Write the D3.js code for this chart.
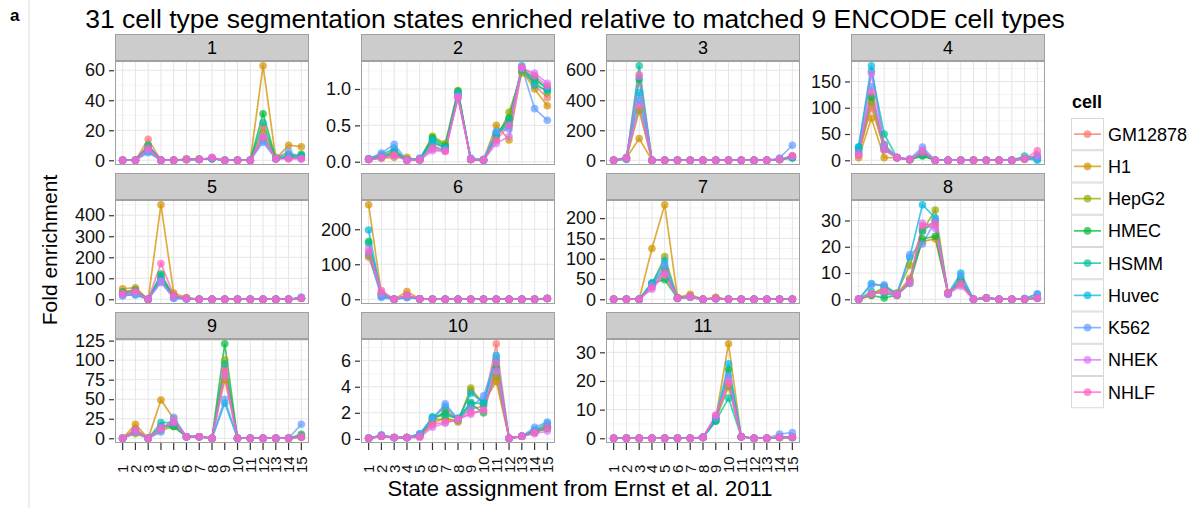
<!DOCTYPE html>
<html>
<head>
<meta charset="utf-8">
<script src="https://cdn.jsdelivr.net/npm/d3@7"></script>
<style>
  body { margin: 0; background: #fff; }
  text { font-family: "Liberation Sans", Arial, Helvetica, sans-serif; }
</style>
</head>
<body>
<script>
const width = 1196;
const height = 508;

// Cell types and ggplot hue colours
const cells = ['GM12878', 'H1', 'HepG2', 'HMEC', 'HSMM', 'Huvec', 'K562', 'NHEK', 'NHLF'];
const cellColors = ['#F8766D', '#D39200', '#93AA00', '#00BA38', '#00C19F', '#00B9E3', '#619CFF', '#DB72FB', '#FF61C3'];

// Ernst et al. states (x categories)
const states = ['1', '2', '3', '4', '5', '6', '7', '8', '9', '10', '11', '12', '13', '14', '15'];

// Segmentation state panels
const panelNames = ['1', '2', '3', '4', '5', '6', '7', '8', '9', '10', '11'];

// Fold enrichment per panel: one row per cell (same order as cells), one value per state
const seg1 = [
  [0, 0, 14, 0, 0, 0.5, 0.5, 1.5, 0, 0, 0, 22, 1, 2, 2],
  [0, 0, 10, 0, 0, 1, 1, 1, 0, 0, 0, 63, 1, 10, 9],
  [0, 0, 9, 0, 0, 0.5, 0.5, 1, 0, 0, 0, 18, 2, 4, 3],
  [0, 0, 8, 0, 0, 0.5, 0.5, 1.5, 0, 0, 0, 31, 1, 2, 4],
  [0, 0, 10, 0, 0, 0.5, 0.5, 1, 0, 0, 0, 25, 1, 3, 3],
  [0, 0, 6, 0, 0, 0.5, 0.5, 1, 0, 0, 0, 14, 1, 2, 2],
  [0, 0, 5, 0, 0, 0.5, 0.5, 1, 0, 0, 0, 12, 1, 6, 1],
  [0, 0, 7, 0, 0, 0.5, 0.5, 2, 0, 0, 0, 16, 1, 1, 1],
  [0, 0, 8, 0, 0, 0.5, 0.5, 1.5, 0, 0, 0, 15, 1, 1, 1]
];
const seg2 = [
  [0.03, 0.06, 0.10, 0.02, 0.03, 0.25, 0.20, 0.90, 0.03, 0.02, 0.35, 0.55, 1.28, 1.05, 0.88],
  [0.03, 0.05, 0.06, 0.06, 0.02, 0.22, 0.15, 0.92, 0.03, 0.03, 0.50, 0.30, 1.25, 1.00, 0.77],
  [0.04, 0.08, 0.15, 0.03, 0.03, 0.35, 0.25, 0.98, 0.03, 0.03, 0.30, 0.68, 1.22, 1.10, 0.95],
  [0.03, 0.06, 0.12, 0.03, 0.03, 0.33, 0.22, 0.97, 0.03, 0.02, 0.38, 0.60, 1.27, 1.15, 1.00],
  [0.03, 0.07, 0.12, 0.03, 0.03, 0.30, 0.20, 0.95, 0.03, 0.02, 0.36, 0.58, 1.26, 1.12, 1.02],
  [0.04, 0.10, 0.18, 0.02, 0.04, 0.28, 0.18, 0.93, 0.04, 0.02, 0.40, 0.50, 1.32, 1.05, 0.98],
  [0.04, 0.12, 0.24, 0.02, 0.05, 0.20, 0.16, 0.88, 0.05, 0.03, 0.42, 0.45, 1.30, 0.73, 0.57],
  [0.03, 0.05, 0.08, 0.02, 0.02, 0.15, 0.15, 0.90, 0.03, 0.02, 0.25, 0.35, 1.28, 1.22, 1.08],
  [0.03, 0.06, 0.10, 0.02, 0.03, 0.18, 0.14, 0.88, 0.03, 0.02, 0.30, 0.50, 1.30, 1.18, 1.04]
];
const seg3 = [
  [0, 15, 570, 0, 0, 0, 0, 0, 0, 0, 0, 0, 0, 5, 30],
  [0, 15, 145, 0, 0, 0, 0, 0, 0, 0, 0, 0, 0, 5, 15],
  [0, 12, 330, 0, 0, 0, 0, 0, 0, 0, 0, 0, 0, 5, 20],
  [0, 10, 540, 0, 0, 0, 0, 0, 0, 0, 0, 0, 0, 5, 20],
  [0, 5, 630, 0, 0, 0, 0, 0, 0, 0, 0, 0, 0, 5, 20],
  [0, 15, 450, 0, 0, 0, 0, 0, 0, 0, 0, 0, 0, 5, 15],
  [0, 20, 400, 0, 0, 0, 0, 0, 0, 0, 0, 0, 0, 15, 100],
  [0, 10, 560, 0, 0, 0, 0, 0, 0, 0, 0, 0, 0, 5, 25],
  [0, 15, 360, 0, 0, 0, 0, 0, 0, 0, 0, 0, 0, 5, 30]
];
const seg4 = [
  [15, 100, 25, 5, 1, 10, 0, 0, 0, 0, 0, 0, 0, 3, 10],
  [5, 80, 5, 5, 1, 12, 0, 0, 0, 0, 0, 0, 0, 2, 5],
  [10, 110, 20, 5, 1, 15, 0, 0, 0, 0, 0, 0, 0, 3, 8],
  [20, 120, 30, 5, 1, 8, 0, 0, 0, 0, 0, 0, 0, 3, 5],
  [25, 170, 50, 5, 2, 10, 0, 0, 0, 0, 0, 0, 0, 8, 3],
  [25, 180, 25, 5, 2, 18, 0, 0, 0, 0, 0, 0, 0, 3, 0],
  [15, 140, 20, 5, 2, 25, 0, 0, 0, 0, 0, 0, 0, 3, 5],
  [10, 165, 30, 5, 2, 20, 0, 0, 0, 0, 0, 0, 0, 3, 8],
  [10, 130, 20, 5, 1, 15, 0, 0, 0, 0, 0, 0, 0, 3, 18]
];
const seg5 = [
  [30, 40, 0, 95, 15, 5, 0, 0, 0, 0, 0, 0, 0, 0, 5],
  [50, 55, 0, 450, 30, 8, 0, 0, 0, 0, 0, 0, 0, 0, 5],
  [25, 35, 0, 100, 10, 3, 0, 0, 0, 0, 0, 0, 0, 0, 5],
  [35, 45, 0, 120, 15, 3, 0, 0, 0, 0, 0, 0, 0, 0, 5],
  [25, 30, 0, 110, 10, 3, 0, 0, 0, 0, 0, 0, 0, 0, 5],
  [20, 20, 0, 90, 5, 2, 0, 0, 0, 0, 0, 0, 0, 0, 5],
  [15, 25, 0, 80, 5, 2, 0, 0, 0, 0, 0, 0, 0, 0, 10],
  [20, 30, 0, 85, 10, 3, 0, 0, 0, 0, 0, 0, 0, 0, 5],
  [30, 40, 0, 170, 20, 5, 0, 0, 0, 0, 0, 0, 0, 0, 5]
];
const seg6 = [
  [120, 20, 0, 10, 1, 0, 0, 0, 0, 0, 0, 0, 0, 0, 2],
  [270, 15, 0, 22, 1, 0, 0, 0, 0, 0, 0, 0, 0, 0, 2],
  [125, 15, 0, 8, 1, 0, 0, 0, 0, 0, 0, 0, 0, 0, 3],
  [165, 15, 0, 10, 1, 0, 0, 0, 0, 0, 0, 0, 0, 0, 2],
  [160, 10, 0, 8, 1, 0, 0, 0, 0, 0, 0, 0, 0, 0, 2],
  [198, 8, 0, 5, 1, 0, 0, 0, 0, 0, 0, 0, 0, 0, 2],
  [130, 5, 0, 5, 1, 0, 0, 0, 0, 0, 0, 0, 0, 0, 2],
  [145, 15, 0, 10, 1, 0, 0, 0, 0, 0, 0, 0, 0, 0, 2],
  [135, 25, 0, 12, 1, 0, 0, 0, 0, 0, 0, 0, 0, 0, 2]
];
const seg7 = [
  [0, 0, 0, 30, 70, 3, 8, 0, 3, 0, 0, 0, 0, 0, 0],
  [0, 0, 0, 125, 233, 5, 12, 0, 5, 0, 0, 0, 0, 0, 0],
  [0, 0, 0, 35, 105, 3, 8, 0, 2, 0, 0, 0, 0, 0, 0],
  [0, 0, 0, 40, 48, 3, 6, 0, 2, 0, 0, 0, 0, 0, 0],
  [0, 0, 0, 38, 75, 2, 5, 0, 1, 0, 0, 0, 0, 0, 0],
  [0, 0, 0, 40, 95, 2, 5, 0, 1, 0, 0, 0, 0, 0, 0],
  [0, 0, 0, 35, 85, 3, 6, 0, 1, 0, 0, 0, 0, 0, 0],
  [0, 0, 0, 25, 60, 2, 5, 0, 1, 0, 0, 0, 0, 0, 0],
  [0, 0, 0, 30, 65, 3, 7, 0, 2, 0, 0, 0, 0, 0, 0]
];
const seg8 = [
  [0, 2, 3, 1.5, 7, 27, 28, 2.5, 6, 0, 0.5, 0, 0, 0, 0.5],
  [0, 1.5, 4, 2, 8, 22, 23, 2.5, 6, 0, 0.5, 0, 0, 0, 0.5],
  [0, 2, 4.5, 2.5, 13, 26, 34, 2.5, 6, 0, 0.5, 0, 0, 0, 0.5],
  [0, 1.5, 0.5, 1.5, 6, 23, 24, 2, 7, 0, 0.5, 0, 0, 0, 0.5],
  [0, 3, 2, 1.5, 7, 26, 30, 2, 8, 0, 0.5, 0, 0, 0, 0.5],
  [0, 6, 5, 2, 16, 36, 31, 2, 10, 0, 0.5, 0, 0, 0.3, 2],
  [0, 5.5, 5.5, 2, 17, 21, 30, 2, 9, 0, 0.5, 0, 0, 0.3, 2],
  [0, 2, 3, 2, 6, 29, 27, 2, 5, 0, 0.5, 0, 0, 0, 0.3],
  [0, 2, 3, 1.5, 7, 28, 29, 2.5, 6, 0, 0.5, 0, 0, 0, 0.5]
];
const seg9 = [
  [0, 12, 0, 12, 20, 2, 2, 0, 90, 0, 0, 0, 0, 0, 2],
  [0, 18, 0, 49, 25, 2, 2, 0, 75, 0, 0, 0, 0, 0, 1],
  [0, 6, 0, 10, 15, 2, 2, 0, 100, 0, 0, 0, 0, 0, 3],
  [0, 10, 0, 15, 15, 2, 2, 0, 121, 0, 0, 0, 0, 0, 5],
  [0, 8, 0, 20, 20, 2, 2, 0, 95, 0, 0, 0, 0, 0, 2],
  [0, 8, 0, 15, 18, 2, 2, 0, 45, 0, 0, 0, 0, 0, 2],
  [0, 10, 0, 8, 27, 2, 2, 0, 50, 0, 0, 0, 0, 0, 18],
  [0, 8, 0, 12, 22, 2, 2, 0, 80, 0, 0, 0, 0, 0, 2],
  [0, 10, 0, 14, 20, 2, 2, 0, 85, 0, 0, 0, 0, 0, 2]
];
const seg10 = [
  [0.05, 0.2, 0.1, 0.1, 0.2, 1.3, 2.2, 1.5, 2.3, 2.5, 7.3, 0.05, 0.2, 0.6, 1.0],
  [0.05, 0.2, 0.1, 0.1, 0.2, 1.2, 1.6, 1.4, 3.7, 2.8, 4.4, 0.05, 0.2, 0.5, 0.9],
  [0.05, 0.2, 0.1, 0.1, 0.3, 1.5, 1.5, 1.3, 3.9, 2.6, 4.8, 0.05, 0.2, 0.6, 0.8],
  [0.05, 0.2, 0.1, 0.1, 0.2, 1.6, 2.0, 1.5, 2.7, 2.0, 5.5, 0.05, 0.2, 0.5, 0.8],
  [0.05, 0.25, 0.1, 0.1, 0.3, 1.7, 1.8, 1.6, 2.8, 2.7, 6.0, 0.05, 0.2, 0.6, 1.0],
  [0.05, 0.3, 0.1, 0.1, 0.4, 1.6, 2.5, 1.5, 3.5, 2.8, 6.4, 0.05, 0.2, 0.7, 1.2],
  [0.05, 0.3, 0.1, 0.1, 0.4, 1.5, 2.7, 1.5, 2.4, 3.3, 6.2, 0.05, 0.2, 0.9, 1.3],
  [0.05, 0.2, 0.1, 0.1, 0.1, 0.9, 1.2, 1.5, 1.9, 2.2, 5.2, 0.05, 0.2, 0.4, 0.6],
  [0.05, 0.2, 0.1, 0.1, 0.2, 1.1, 1.3, 1.5, 2.0, 2.2, 5.8, 0.05, 0.2, 0.5, 0.9]
];
const seg11 = [
  [0, 0, 0, 0, 0, 0, 0, 0.3, 7, 20, 0.5, 0, 0, 0.3, 0.3],
  [0, 0, 0, 0, 0, 0, 0, 0.3, 7, 33, 0.5, 0, 0, 0.3, 0.3],
  [0, 0, 0, 0, 0, 0, 0, 0.3, 6.5, 18, 0.5, 0, 0, 0.3, 0.3],
  [0, 0, 0, 0, 0, 0, 0, 0.3, 6, 24, 0.5, 0, 0, 0.3, 0.3],
  [0, 0, 0, 0, 0, 0, 0, 0.3, 6, 14, 0.5, 0, 0, 0.3, 0.3],
  [0, 0, 0, 0, 0, 0, 0, 0.3, 7, 26, 0.5, 0, 0, 0.3, 0.3],
  [0, 0, 0, 0, 0, 0, 0, 0.3, 7, 22, 0.5, 0, 0, 1.5, 2],
  [0, 0, 0, 0, 0, 0, 0, 0.3, 8, 20, 0.5, 0, 0, 0.3, 0.3],
  [0, 0, 0, 0, 0, 0, 0, 0.3, 8, 19, 0.5, 0, 0, 0.3, 0.3]
];
const panelData = [seg1, seg2, seg3, seg4, seg5, seg6, seg7, seg8, seg9, seg10, seg11];

// y tick labels for each panel
const yTicks = [
  ['0', '20', '40', '60'],
  ['0.0', '0.5', '1.0'],
  ['0', '200', '400', '600'],
  ['0', '50', '100', '150'],
  ['0', '100', '200', '300', '400'],
  ['0', '100', '200'],
  ['0', '50', '100', '150', '200'],
  ['0', '10', '20', '30'],
  ['0', '25', '50', '75', '100', '125'],
  ['0', '2', '4', '6'],
  ['0', '10', '20', '30']
];

// Layout
const colLeft = [115, 361, 606, 851];
const rowTop = [34, 173, 312];
const pw = 194;       // panel width
const stripH = 27;
const ph = 104;       // panel height
const fontFam = '"Liberation Sans", Arial, Helvetica, sans-serif';

const svg = d3.select('body').append('svg')
  .attr('width', width)
  .attr('height', height);

// figure letter and left rule
svg.append('line')
  .attr('x1', 29).attr('x2', 29).attr('y1', 0).attr('y2', height)
  .attr('stroke', '#dddddd').attr('stroke-width', 1);
svg.append('text')
  .attr('x', 10).attr('y', 21)
  .attr('font-size', 17).attr('font-weight', 'bold')
  .text('a');

// title
svg.append('text')
  .attr('x', 575).attr('y', 28)
  .attr('text-anchor', 'middle')
  .attr('font-size', 26.5)
  .text('31 cell type segmentation states enriched relative to matched 9 ENCODE cell types');

const x = d3.scalePoint().domain(states).range([0, pw]).padding(0.6);

panelData.forEach((rows, i) => {
  const col = i % 4;
  const row = Math.floor(i / 4);
  const g = svg.append('g').attr('transform', `translate(${colLeft[col]},${rowTop[row]})`);

  // strip
  g.append('rect')
    .attr('x', 0.5).attr('y', 0.5)
    .attr('width', pw - 1).attr('height', stripH - 1)
    .attr('fill', '#cccccc').attr('stroke', '#a0a0a0');
  g.append('text')
    .attr('x', pw / 2).attr('y', stripH / 2 + 6.5)
    .attr('text-anchor', 'middle')
    .attr('font-size', 18)
    .text(panelNames[i]);

  const p = g.append('g').attr('transform', `translate(0,${stripH})`);

  // free y scale with 5% expansion
  const all = rows.flat();
  const lo = d3.min(all), hi = d3.max(all);
  const pad = (hi - lo) * 0.05;
  const y = d3.scaleLinear().domain([lo - pad, hi + pad]).range([ph, 0]);

  const ticks = yTicks[i].map(Number);
  const step = ticks[1] - ticks[0];
  const minor = [];
  for (let t = ticks[0] - step / 2; t <= hi + pad; t += step) {
    if (t >= lo - pad) minor.push(t);
  }

  p.append('rect')
    .attr('width', pw).attr('height', ph)
    .attr('fill', '#ffffff');

  // minor + major grid
  p.selectAll('.minor')
    .data(minor)
    .enter().append('line')
    .attr('x1', 0).attr('x2', pw)
    .attr('y1', d => y(d)).attr('y2', d => y(d))
    .attr('stroke', '#f5f5f5').attr('stroke-width', 1);
  p.selectAll('.hmajor')
    .data(ticks)
    .enter().append('line')
    .attr('x1', 0).attr('x2', pw)
    .attr('y1', d => y(d)).attr('y2', d => y(d))
    .attr('stroke', '#e5e5e5').attr('stroke-width', 1);
  p.selectAll('.vmajor')
    .data(states)
    .enter().append('line')
    .attr('y1', 0).attr('y2', ph)
    .attr('x1', d => x(d)).attr('x2', d => x(d))
    .attr('stroke', '#e5e5e5').attr('stroke-width', 1);

  // lines for every cell first, then points on top
  const line = d3.line()
    .x((d, j) => x(states[j]))
    .y(d => y(d));

  p.selectAll('path.series')
    .data(rows)
    .enter().append('path')
    .attr('class', 'series')
    .attr('d', line)
    .attr('fill', 'none')
    .attr('stroke', (d, k) => cellColors[k])
    .attr('stroke-opacity', 0.75)
    .attr('stroke-width', 1.7);

  rows.forEach((vals, k) => {
    p.selectAll(null)
      .data(vals)
      .enter().append('circle')
      .attr('cx', (d, j) => x(states[j]))
      .attr('cy', d => y(d))
      .attr('r', 3.8)
      .attr('fill', cellColors[k])
      .attr('fill-opacity', 0.7);
  });

  // panel border
  p.append('rect')
    .attr('x', 0.5).attr('y', 0.5)
    .attr('width', pw - 1).attr('height', ph - 1)
    .attr('fill', 'none').attr('stroke', '#a0a0a0');

  // y axis
  const yAxis = d3.axisLeft(y)
    .tickValues(ticks)
    .tickFormat((d, j) => yTicks[i][j])
    .tickSize(5)
    .tickPadding(4);
  const ya = p.append('g').attr('transform', 'translate(-1,0)').call(yAxis);
  ya.select('.domain').remove();
  ya.selectAll('line').attr('stroke', '#333').attr('stroke-width', 1.2);
  ya.selectAll('text')
    .attr('font-size', 18)
    .attr('font-family', fontFam)
    .attr('fill', '#111');

  // x axis only on the bottom row
  if (row === 2) {
    p.selectAll('.xtick')
      .data(states)
      .enter().append('line')
      .attr('x1', d => x(d)).attr('x2', d => x(d))
      .attr('y1', ph).attr('y2', ph + 7)
      .attr('stroke', '#333').attr('stroke-width', 1.2);
    p.selectAll('.xlab')
      .data(states)
      .enter().append('text')
      .attr('transform', d => `translate(${x(d) + 5.5},${ph + 30}) rotate(-90)`)
      .attr('text-anchor', 'start')
      .attr('font-size', 15)
      .attr('fill', '#111')
      .text(d => d);
  }
});

// axis titles
svg.append('text')
  .attr('transform', 'translate(57,250) rotate(-90)')
  .attr('text-anchor', 'middle')
  .attr('font-size', 21)
  .text('Fold enrichment');
svg.append('text')
  .attr('x', 580).attr('y', 496)
  .attr('text-anchor', 'middle')
  .attr('font-size', 22)
  .text('State assignment from Ernst et al. 2011');

// legend
const legend = svg.append('g').attr('transform', 'translate(1071,108)');
legend.append('text')
  .attr('x', 1).attr('y', 0)
  .attr('font-size', 18).attr('font-weight', 'bold')
  .text('cell');
const keyH = 32.25;
const keys = legend.selectAll('.key')
  .data(cells)
  .enter().append('g')
  .attr('transform', (d, k) => `translate(0,${10 + k * keyH})`);
keys.append('rect')
  .attr('x', 0.5).attr('y', 0.5)
  .attr('width', 32).attr('height', keyH - 1)
  .attr('fill', '#ffffff').attr('stroke', '#d9d9d9');
keys.append('line')
  .attr('x1', 3).attr('x2', 30)
  .attr('y1', keyH / 2).attr('y2', keyH / 2)
  .attr('stroke', (d, k) => cellColors[k])
  .attr('stroke-opacity', 0.75)
  .attr('stroke-width', 1.7);
keys.append('circle')
  .attr('cx', 16.5).attr('cy', keyH / 2)
  .attr('r', 3.8)
  .attr('fill', (d, k) => cellColors[k])
  .attr('fill-opacity', 0.7);
keys.append('text')
  .attr('x', 37).attr('y', keyH / 2 + 6.5)
  .attr('font-size', 18)
  .text(d => d);
</script>
</body>
</html>
